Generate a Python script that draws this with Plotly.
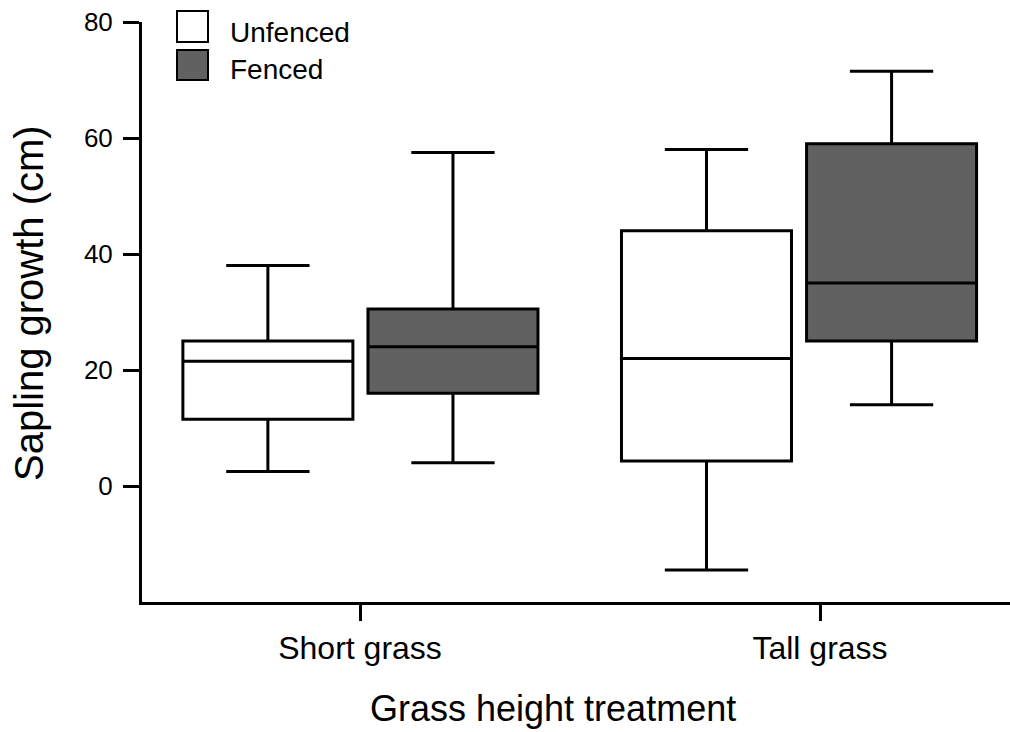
import plotly.graph_objects as go

categories = ["Short grass", "Tall grass"]
series_names = ["Unfenced", "Fenced"]

unfenced_lower = [2.5, -14.5]
unfenced_q1 = [11.5, 4.3]
unfenced_median = [21.5, 22.0]
unfenced_q3 = [25.0, 44.0]
unfenced_upper = [38.0, 58.0]

fenced_lower = [4.0, 14.0]
fenced_q1 = [16.0, 25.0]
fenced_median = [24.0, 35.0]
fenced_q3 = [30.5, 59.0]
fenced_upper = [57.5, 71.5]

y_ticks = [0, 20, 40, 60, 80]

x_title = "Grass height treatment"
y_title = "Sapling growth (cm)"

FONT = "Arial, Liberation Sans, sans-serif"
GRAY = "#616161"

fig = go.Figure()
fig.add_trace(go.Box(
    name=series_names[0], x=categories,
    lowerfence=unfenced_lower, q1=unfenced_q1, median=unfenced_median,
    q3=unfenced_q3, upperfence=unfenced_upper,
    fillcolor="white", line=dict(color="black", width=3),
    whiskerwidth=0.49, boxpoints=False, hoverinfo="skip",
))
fig.add_trace(go.Box(
    name=series_names[1], x=categories,
    lowerfence=fenced_lower, q1=fenced_q1, median=fenced_median,
    q3=fenced_q3, upperfence=fenced_upper,
    fillcolor=GRAY, line=dict(color="black", width=3),
    whiskerwidth=0.49, boxpoints=False, hoverinfo="skip",
))
# invisible carrier trace for the category tick axis
fig.add_trace(go.Scatter(
    x=categories, y=[None] * len(categories), xaxis="x2", mode="markers",
    showlegend=False, hoverinfo="skip",
))

W, H = 1010, 732
L, R, T, B = 142, 0, 22, 130
pw, ph = W - L - R, H - T - B

def px(x):
    return (x - L) / pw

def py(y):
    return (H - B - y) / ph

shapes = [
    dict(type="rect", xref="paper", yref="paper",
         x0=px(177), x1=px(208), y0=py(42), y1=py(11),
         fillcolor="white", line=dict(color="black", width=2)),
    dict(type="rect", xref="paper", yref="paper",
         x0=px(177), x1=px(208), y0=py(80), y1=py(50),
         fillcolor=GRAY, line=dict(color="black", width=2)),
]
annotations = [
    dict(text=series_names[0], xref="paper", yref="paper", x=px(228), y=py(32),
         xanchor="left", yanchor="middle", showarrow=False,
         font=dict(family=FONT, size=28, color="black")),
    dict(text=series_names[1], xref="paper", yref="paper", x=px(228), y=py(69),
         xanchor="left", yanchor="middle", showarrow=False,
         font=dict(family=FONT, size=28, color="black")),
    dict(text=x_title, xref="paper", yref="paper", x=px(553), y=py(708),
         xanchor="center", yanchor="middle", showarrow=False,
         font=dict(family=FONT, size=36, color="black")),
    dict(text=y_title, xref="paper", yref="paper", x=px(29), y=py(303),
         xanchor="center", yanchor="middle", showarrow=False, textangle=-90,
         font=dict(family=FONT, size=40, color="black")),
]

fig.update_layout(
    width=W, height=H,
    margin=dict(l=L, r=R, t=T, b=B),
    paper_bgcolor="white", plot_bgcolor="white",
    boxmode="group", boxgap=0.156, boxgroupgap=0.0815,
    showlegend=False,
    shapes=shapes, annotations=annotations,
    font=dict(family=FONT, color="black"),
    xaxis=dict(
        type="category", range=[-0.498, 1.481],
        showline=True, linecolor="black", linewidth=3,
        ticks="", showticklabels=False,
        showgrid=False, zeroline=False,
    ),
    xaxis2=dict(
        type="category", range=[-0.474, 1.413],
        overlaying="x", anchor="y", side="bottom",
        showline=False, showgrid=False, zeroline=False,
        ticks="outside", ticklen=18, tickwidth=3, tickcolor="black",
        tickfont=dict(family=FONT, size=32, color="black"),
    ),
    yaxis=dict(
        range=[-20, 80], tickvals=y_ticks,
        showline=True, linecolor="black", linewidth=3,
        ticks="outside", ticklen=16, tickwidth=3, tickcolor="black",
        showgrid=False, zeroline=False,
        tickfont=dict(family=FONT, size=26, color="black"),
        ticklabelstandoff=5,
    ),
)

fig.write_html("out.html", config={"displayModeBar": False},
               post_script="document.body.style.margin='0';")
